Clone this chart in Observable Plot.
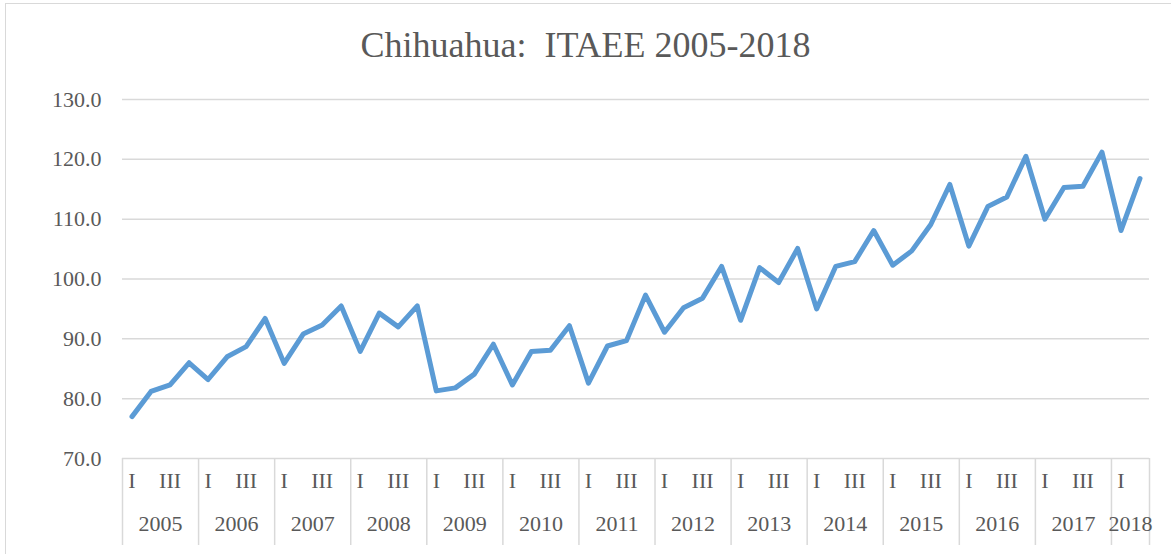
<!DOCTYPE html>
<html>
<head>
<meta charset="utf-8">
<script src="https://cdn.jsdelivr.net/npm/d3@7"></script>
<script src="https://cdn.jsdelivr.net/npm/@observablehq/plot@0.6"></script>
<style>
  html, body { margin: 0; padding: 0; background: #fff; }
  #wrap { position: relative; width: 1171px; height: 554px; overflow: hidden; font-family: "Liberation Serif", "Times New Roman", serif; }
  #border { position: absolute; left: 5px; top: 3px; width: 1300px; height: 700px; border-left: 1.5px solid #d9d9d9; border-top: 1.5px solid #d9d9d9; box-sizing: border-box; }
  #title { position: relative; height: 80px; box-sizing: border-box; padding-top: 27px; text-align: center; font-family: "Liberation Serif", "Times New Roman", serif; font-size: 36px; line-height: 1; color: #595959; }
  #chart { position: relative; }
</style>
</head>
<body>
<div id="wrap">
  <div id="border"></div>
  <div id="title">Chihuahua:&nbsp; ITAEE 2005-2018</div>
  <div id="chart"></div>
</div>
<script>
const years = [2005, 2006, 2007, 2008, 2009, 2010, 2011, 2012, 2013, 2014, 2015, 2016, 2017, 2018];
const quartersPerYear = [4, 4, 4, 4, 4, 4, 4, 4, 4, 4, 4, 4, 4, 2];
const quarterNames = ["I", "II", "III", "IV"];
const shownQuarterNames = ["I", "III"];
const yTicks = [70, 80, 90, 100, 110, 120, 130];
const values = [
  77.0, 81.2, 82.3, 86.0,
  83.2, 87.0, 88.7, 93.4,
  85.9, 90.8, 92.3, 95.5,
  87.9, 94.3, 92.0, 95.5,
  81.3, 81.8, 84.1, 89.1,
  82.3, 87.9, 88.1, 92.2,
  82.6, 88.8, 89.7, 97.3,
  91.1, 95.2, 96.8, 102.1,
  93.1, 101.9, 99.4, 105.1,
  95.0, 102.1, 102.9, 108.1,
  102.3, 104.7, 109.1, 115.8,
  105.5, 112.1, 113.7, 120.5,
  110.0, 115.3, 115.5, 121.2,
  108.1, 116.8
];

const quarters = [];
const yearBands = [];
let idx = 0;
years.forEach((yr, k) => {
  const start = idx;
  for (let q = 0; q < quartersPerYear[k]; q++) {
    quarters.push({i: idx, year: yr, q: quarterNames[q], value: values[idx]});
    idx++;
  }
  yearBands.push({year: yr, start, end: idx});
});
const n = idx;
const boundaries = [0, ...yearBands.map(d => d.end)];

const W = 1171, H = 474;
const mTop = 19, mBottom = 96, mLeft = 122, mRight = 22;
const frameH = H - mTop - mBottom;
const font = "Liberation Serif, Times New Roman, serif";

const chart = Plot.plot({
  width: W,
  height: H,
  marginTop: mTop,
  marginBottom: mBottom,
  marginLeft: mLeft,
  marginRight: mRight,
  style: {fontFamily: font, fontSize: "22px", color: "#595959", background: "transparent", overflow: "visible"},
  x: {domain: [0, n], axis: null},
  y: {domain: [70, 130], axis: null},
  marks: [
    Plot.ruleY(yTicks, {stroke: "#d9d9d9", strokeWidth: 1.5}),
    Plot.axisY(yTicks, {tickSize: 0, tickPadding: 21, tickFormat: d => d.toFixed(1), fontSize: 22, fill: "#595959", anchor: "left", label: null}),
    Plot.ruleX(boundaries, {x: d => d, stroke: "#d9d9d9", strokeWidth: 1.5, insetTop: frameH, insetBottom: -87}),
    Plot.text(quarters.filter(d => shownQuarterNames.includes(d.q)), {
      x: d => d.i + 0.5, text: "q", frameAnchor: "bottom", dy: 29, fontSize: 22, fill: "#595959"
    }),
    Plot.text(yearBands, {
      x: d => (d.start + d.end) / 2, text: d => String(d.year), frameAnchor: "bottom", dy: 72, fontSize: 22, fill: "#595959"
    }),
    Plot.line(quarters, {x: d => d.i + 0.5, y: "value", stroke: "#5b9bd5", strokeWidth: 5, strokeLinejoin: "round", strokeLinecap: "round"})
  ]
});
document.getElementById("chart").appendChild(chart);
</script>
</body>
</html>
